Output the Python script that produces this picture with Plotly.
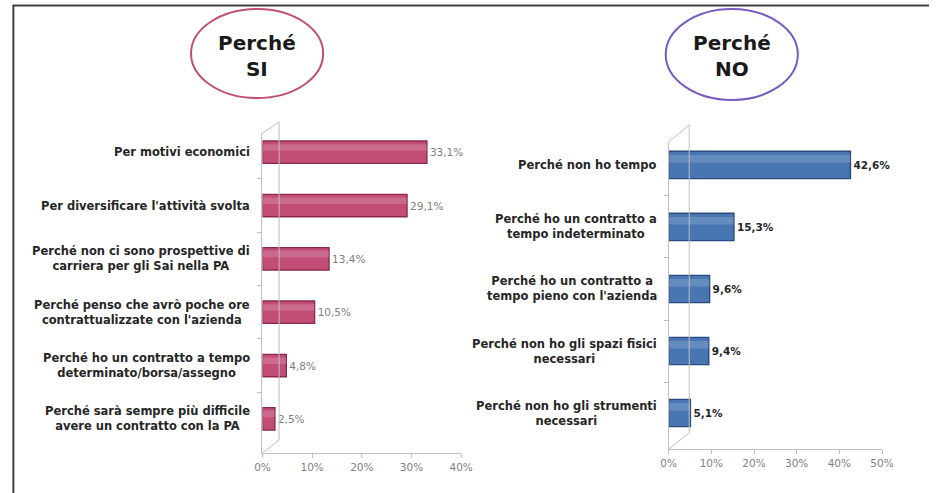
import plotly.graph_objects as go

# ---------------- data ----------------
si_labels = [
    "Per motivi economici",
    "Per diversificare l'attività svolta",
    "Perché non ci sono prospettive di<br>carriera per gli Sai nella PA",
    "Perché penso che avrò poche ore<br>contrattualizzate con l'azienda",
    "Perché ho un contratto a tempo<br>determinato/borsa/assegno",
    "Perché sarà sempre più difficile<br>avere un contratto con la PA",
]
si_values = [33.1, 29.1, 13.4, 10.5, 4.8, 2.5]

no_labels = [
    "Perché non ho tempo",
    "Perché ho un contratto a<br>tempo indeterminato",
    "Perché ho un contratto a<br>tempo pieno con l'azienda",
    "Perché non ho gli spazi fisici<br>necessari",
    "Perché non ho gli strumenti<br>necessari",
]
no_values = [42.6, 15.3, 9.6, 9.4, 5.1]

si_ticks = [0, 10, 20, 30, 40]
si_ticktext = ["0%", "10%", "20%", "30%", "40%"]
no_ticks = [0, 10, 20, 30, 40, 50]
no_ticktext = ["0%", "10%", "20%", "30%", "40%", "50%"]

title_si = "Perché<br>SI"
title_no = "Perché<br>NO"

# ---------------- geometry helpers (reference pixels -> paper) ----------------
W, H = 941, 493
def px(x):
    return x / W
def py(y):
    return 1 - y / H

FONT = "DejaVu Sans"
LABEL_COLOR = "#262626"
TICK_COLOR = "#808080"
AXIS_COLOR = "#bfbfbf"

fig = go.Figure()

# main bars
fig.add_trace(go.Bar(
    x=si_values, y=si_labels, orientation="h",
    xaxis="x", yaxis="y",
    width=0.42,
    marker=dict(color="#c24e78", line=dict(color="#8a2a4e", width=1.4)),
    texttemplate="%{x:.1f}%", textposition="outside", cliponaxis=False,
    textfont=dict(family=FONT, size=10.5, color="#808080"),
    showlegend=False, hoverinfo="x+y",
))
# cylinder highlight
fig.add_trace(go.Bar(
    x=si_values, y=si_labels, orientation="h",
    xaxis="x", yaxis="y",
    width=0.12, offset=-0.15,
    marker=dict(color="rgba(255,255,255,0.16)", line=dict(width=0)),
    showlegend=False, hoverinfo="skip",
))
fig.add_trace(go.Bar(
    x=no_values, y=no_labels, orientation="h",
    xaxis="x2", yaxis="y2",
    width=0.44,
    marker=dict(color="#4876b2", line=dict(color="#284a7c", width=1.4)),
    texttemplate="<b>%{x:.1f}%</b>", textposition="outside", cliponaxis=False,
    textfont=dict(family=FONT, size=10.5, color="#262626"),
    showlegend=False, hoverinfo="x+y",
))
fig.add_trace(go.Bar(
    x=no_values, y=no_labels, orientation="h",
    xaxis="x2", yaxis="y2",
    width=0.12, offset=-0.16,
    marker=dict(color="rgba(255,255,255,0.16)", line=dict(width=0)),
    showlegend=False, hoverinfo="skip",
))

# axis domains (reference pixels)
L_x0, L_x1, L_top, L_bot = 260, 463, 133, 453
R_x0, R_x1, R_top, R_bot = 675, 893, 142, 449

common_x = dict(
    showgrid=False, zeroline=False, showline=True, linecolor=AXIS_COLOR, linewidth=1,
    ticks="outside", ticklen=4, tickcolor=AXIS_COLOR, tickmode="array",
    tickfont=dict(family=FONT, size=10.5, color=TICK_COLOR),
)
common_y = dict(
    type="category", showgrid=False, zeroline=False, showline=True,
    linecolor=AXIS_COLOR, linewidth=1, ticks="outside", ticklen=4,
    tickcolor=AXIS_COLOR, tickson="boundaries", showticklabels=False,
)

fig.update_layout(
    width=W, height=H,
    margin=dict(l=0, r=0, t=0, b=0),
    paper_bgcolor="white", plot_bgcolor="white",
    separators=",.",
    barmode="overlay",
    xaxis=dict(domain=[px(L_x0), px(L_x1)], range=[0, 40],
               tickvals=si_ticks, ticktext=si_ticktext, anchor="y", **common_x),
    yaxis=dict(domain=[py(L_bot), py(L_top)], range=[5.64, -0.36],
               categoryorder="array", categoryarray=si_labels,
               anchor="x", **common_y),
    xaxis2=dict(domain=[px(R_x0), px(R_x1)], range=[0, 50],
                tickvals=no_ticks, ticktext=no_ticktext, anchor="y2", **common_x),
    yaxis2=dict(domain=[py(R_bot), py(R_top)], range=[4.58, -0.37],
                categoryorder="array", categoryarray=no_labels,
                anchor="x2", **common_y),
)

# category labels (centred multi-line, right aligned near the axis)
for lab in si_labels:
    fig.add_annotation(
        x=px(249), xref="paper", y=lab, yref="y", xanchor="right", yanchor="middle",
        text="<b>" + lab + "</b>", showarrow=False, align="center",
        font=dict(family=FONT, size=11.5, color=LABEL_COLOR),
    )
for lab in no_labels:
    fig.add_annotation(
        x=px(665), xref="paper", y=lab, yref="y2", xanchor="right", yanchor="middle",
        text="<b>" + lab + "</b>", showarrow=False, align="center",
        font=dict(family=FONT, size=11.5, color=LABEL_COLOR),
    )

shapes = []
def line(x0, y0, x1, y1, color=AXIS_COLOR, width=1):
    shapes.append(dict(type="line", xref="paper", yref="paper",
                       x0=px(x0), y0=py(y0), x1=px(x1), y1=py(y1),
                       line=dict(color=color, width=width)))

# 3D back wall lines
line(L_x0, L_top, 277, 122)
line(277, 122, 277, 440)
line(L_x0, L_bot, 277, 440)
line(R_x0, R_top, 696, 125)
line(696, 125, 696, 433)
line(R_x0, R_bot, 696, 433)

# frame (top and left edges)
line(5, 5.5, 941, 5.5, color="#404040", width=2)
line(5.5, 5, 5.5, 493, color="#404040", width=2)

# title ellipses
shapes.append(dict(type="circle", xref="paper", yref="paper",
                   x0=px(187), x1=px(322), y0=py(98), y1=py(9),
                   line=dict(color="#c0506e", width=2)))
shapes.append(dict(type="circle", xref="paper", yref="paper",
                   x0=px(672), x1=px(807), y0=py(100), y1=py(9),
                   line=dict(color="#7a5cc0", width=2)))
fig.update_layout(shapes=shapes)

fig.add_annotation(x=px(254), y=py(56), xref="paper", yref="paper",
                   xanchor="center", yanchor="middle",
                   text="<b>" + title_si + "</b>", showarrow=False, align="center",
                   font=dict(family=FONT, size=20, color="#1a1a1a"))
fig.add_annotation(x=px(740), y=py(56), xref="paper", yref="paper",
                   xanchor="center", yanchor="middle",
                   text="<b>" + title_no + "</b>", showarrow=False, align="center",
                   font=dict(family=FONT, size=20, color="#1a1a1a"))

fig.write_html("out.html", config={"displayModeBar": False},
               post_script="document.body.style.margin='0px';")
